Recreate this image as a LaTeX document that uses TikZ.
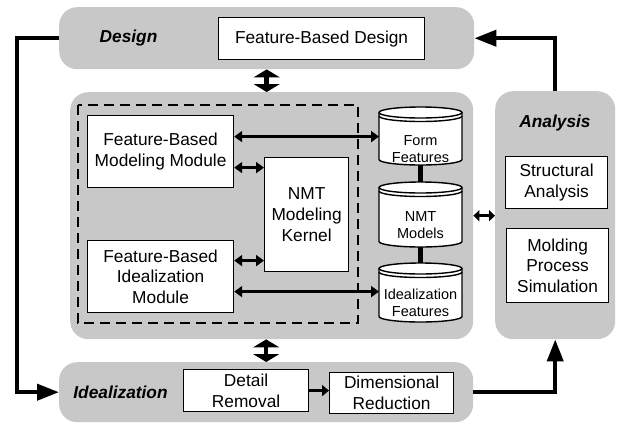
\documentclass[tikz,border=0pt]{standalone}
\usepackage{fontspec}
\setmainfont{Liberation Sans}
\usetikzlibrary{arrows.meta}
\definecolor{bandgray}{RGB}{200,200,200}
\tikzset{
  band/.style={fill=bandgray, rounded corners=18pt, inner sep=0pt, anchor=north west},
  box/.style={draw, fill=white, line width=1.2pt, inner sep=0pt, anchor=north west, align=center,
    font=\fontsize{17.3}{20.7}\selectfont},
  lbl/.style={font=\fontsize{17.3}{20.7}\selectfont\bfseries\itshape},
  cyltxt/.style={align=center, inner sep=0pt, font=\fontsize{14.5}{16.7}\selectfont},
  cylline/.style={line width=1.4pt},
  thindbl/.style={line width=2.6pt, {Triangle[length=8pt,width=11pt]}-{Triangle[length=8pt,width=11pt]}},
  fatdbl/.style={line width=4.5pt, {Triangle[length=8pt,width=26pt]}-{Triangle[length=8pt,width=26pt]}},
  smalldbl/.style={line width=3pt, {Triangle[length=6pt,width=11pt]}-{Triangle[length=6pt,width=11pt]}},
  looparr/.style={line width=4pt, line join=miter, -{Triangle[length=22pt,width=16pt]}},
  flowarr/.style={line width=3pt, -{Triangle[length=7pt,width=11pt]}},
  cylconn/.style={line width=5pt}
}
\newcommand\mycyl[4]{% name, cx, top, height
  \begin{scope}[shift={(#2,#3)}]
    \fill[white] (-41.5,5.5) -- (-41.5,#4-5.5)
      arc[start angle=180,end angle=360,x radius=41.5pt,y radius=5.5pt]
      -- (41.5,5.5)
      arc[start angle=0,end angle=180,x radius=41.5pt,y radius=5.5pt] -- cycle;
    \draw[cylline] (-41.5,5.5) -- (-41.5,#4-5.5)
      arc[start angle=180,end angle=360,x radius=41.5pt,y radius=5.5pt]
      -- (41.5,5.5);
    \draw[cylline] (0,5.5) ellipse[x radius=41.5pt,y radius=5.5pt];
    \draw[cylline] (-41.5,9) arc[start angle=180,end angle=360,x radius=41.5pt,y radius=5.5pt];
    \coordinate (#1-top) at (0,0);
    \coordinate (#1-bot) at (0,#4);
    \coordinate (#1-west) at (-41.5,#4/2);
  \end{scope}}
\begin{document}
\begin{tikzpicture}[x=1pt,y=-1pt]
\useasboundingbox (0,0) rectangle (618,424);
% bands
\node[band, minimum width=415pt, minimum height=62pt] (design) at (59,7) {};
\node[band, minimum width=403pt, minimum height=247pt] (middle) at (70,92) {};
\node[band, minimum width=120pt, minimum height=248pt] (analysis) at (495,91) {};
\node[band, minimum width=414pt, minimum height=60pt] (ideal) at (59,362) {};
% band labels
\node[lbl] (designlbl) at (128.5,38) {Design};
\node[lbl] (ideallbl) at (120.5,392) {Idealization};
\node[lbl] (analysislbl) at (555,123) {Analysis};
% dashed frame
\draw[dashed, line width=1.5pt, dash pattern=on 10pt off 6pt] (78,105) rectangle (358,323);
% boxes
\node[box, minimum width=206pt, minimum height=42pt] (fbd) at (218,17) {Feature-Based Design};
\node[box, minimum width=146pt, minimum height=72pt] (fbmm) at (87,115) {Feature-Based\\Modeling Module};
\node[box, minimum width=146pt, minimum height=72pt] (fbim) at (87,240) {Feature-Based\\Idealization\\Module};
\node[box, minimum width=84pt, minimum height=114pt] (kernel) at (264,157) {NMT\\Modeling\\Kernel};
\node[box, minimum width=102pt, minimum height=52pt] (struct) at (505,156) {Structural\\Analysis};
\node[box, minimum width=102pt, minimum height=74pt] (molding) at (506,228) {Molding\\Process\\Simulation};
\node[box, minimum width=125pt, minimum height=42pt] (detail) at (183,369) {Detail\\Removal};
\node[box, minimum width=124pt, minimum height=41pt] (dimred) at (329,372) {Dimensional\\Reduction};
% cylinder connectors (behind)
\path (420.5,107) coordinate (cA) (420.5,165) coordinate (cB) (420.5,182) coordinate (cC)
      (420.5,247) coordinate (cD) (420.5,263) coordinate (cE);
\draw[cylconn] (cB) -- (cC);
\draw[cylconn] (cD) -- (cE);
% cylinders
\mycyl{formcyl}{420.5}{107}{58}
\mycyl{nmtcyl}{420.5}{182}{65}
\mycyl{idcyl}{420.5}{263}{59}
\node[cyltxt] (formtxt) at (420.5,149) {Form\\Features};
\node[cyltxt] (nmttxt) at (420.5,225) {NMT\\Models};
\node[cyltxt] (idtxt) at (420.5,303) {Idealization\\Features};
% inner arrows
\coordinate (a1) at ([yshift=15pt]fbmm.east);
\coordinate (a2) at ([yshift=-16pt]fbmm.east);
\coordinate (a3) at ([yshift=16pt]fbim.east);
\coordinate (a4) at ([yshift=-15pt]fbim.east);
\draw[thindbl] (a1) -- (a1 -| formcyl-west);
\draw[thindbl] (a2) -- (a2 -| kernel.west);
\draw[thindbl] (a3) -- (a3 -| kernel.west);
\draw[thindbl] (a4) -- (a4 -| idcyl-west);
% band-to-band arrows
\draw[fatdbl] (design.south) -- (design.south |- middle.north);
\draw[fatdbl] (ideal.north) -- (ideal.north |- middle.south);
\draw[smalldbl] (middle.east) -- (middle.east -| analysis.west);
\draw[flowarr] (detail.east) -- (detail.east -| dimred.west);
% loop arrows
\draw[looparr] (design.west) -- ++(-42,0) |- (ideal.west);
\draw[looparr] (ideal.east) -| (analysis.south);
\draw[looparr] (analysis.north) |- (design.east);
\end{tikzpicture}
\end{document}
